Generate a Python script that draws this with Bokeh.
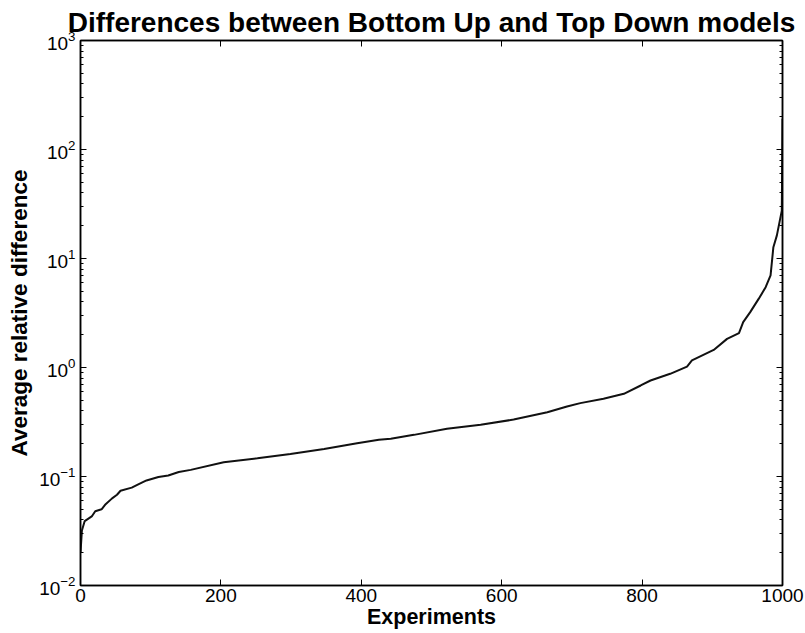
from bokeh.plotting import figure
from bokeh.models import FixedTicker, LogAxis, LinearAxis, LogTickFormatter
from bokeh.embed import file_html
from bokeh.resources import INLINE

# Sorted average relative differences, sampled along the experiment index
experiments = [0, 2, 6, 16, 21, 30, 35, 45, 52, 57, 73, 83, 94, 111, 125, 140,
               157, 204, 252, 299, 347, 394, 425, 442, 475, 522, 570, 617, 665,
               693, 712, 745, 774, 798, 812, 840, 864, 871, 902, 921, 938, 944,
               954, 966, 976, 983, 987, 992, 999, 1000]
avg_rel_diff = [0.020, 0.032, 0.039, 0.043, 0.048, 0.050, 0.055, 0.063, 0.068,
                0.074, 0.079, 0.085, 0.092, 0.099, 0.102, 0.110, 0.115, 0.135,
                0.147, 0.161, 0.179, 0.202, 0.217, 0.222, 0.241, 0.274, 0.298,
                0.333, 0.389, 0.439, 0.471, 0.516, 0.574, 0.684, 0.760, 0.875,
                1.02, 1.16, 1.45, 1.83, 2.07, 2.61, 3.22, 4.26, 5.45, 6.99,
                12.7, 16.3, 27.5, 191.0]

x_ticks = [0, 200, 400, 600, 800, 1000]
y_decades = [1e-2, 1e-1, 1e0, 1e1, 1e2, 1e3]
y_minor = [k * d for d in y_decades[:-1] for k in range(2, 10)]

FONT = "Liberation Sans"

p = figure(width=805, height=633, y_axis_type="log",
           x_range=(0, 1000), y_range=(1e-2, 1e3),
           output_backend="svg", toolbar_location=None,
           min_border_left=80, min_border_right=23,
           min_border_top=40, min_border_bottom=48)

p.title.text = "Differences between Bottom Up and Top Down models"
p.title.align = "center"
p.title.text_font = FONT
p.title.text_font_size = "28px"
p.title.text_font_style = "bold"
p.title.text_color = "black"
p.title.standoff = 6

p.grid.visible = False
p.outline_line_color = "black"
p.outline_line_width = 1.5
p.outline_line_alpha = 1.0

x_ticker = FixedTicker(ticks=x_ticks)
y_ticker = FixedTicker(ticks=y_decades, minor_ticks=y_minor)


def style_axis(ax, show_labels, label_size="21px"):
    ax.axis_line_color = "black"
    ax.axis_line_width = 1.5
    ax.major_tick_in = 6
    ax.major_tick_out = 0
    ax.minor_tick_in = 3
    ax.minor_tick_out = 0
    ax.major_tick_line_color = "black"
    ax.minor_tick_line_color = "black"
    ax.major_label_text_font = FONT
    ax.major_label_text_font_size = "19px" if show_labels else "0px"
    ax.major_label_text_color = "black" if show_labels else None
    ax.axis_label_text_font = FONT
    ax.axis_label_text_font_size = label_size
    ax.axis_label_text_font_style = "bold"
    ax.axis_label_text_color = "black"


xa = p.xaxis[0]
xa.ticker = x_ticker
xa.axis_label = "Experiments"
xa.major_label_standoff = 3
xa.axis_label_standoff = 0
style_axis(xa, True, "21.5px")

ya = p.yaxis[0]
ya.ticker = y_ticker
ya.formatter = LogTickFormatter()
ya.axis_label = "Average relative difference"
ya.major_label_standoff = 5
ya.axis_label_standoff = 4
style_axis(ya, True, "22.5px")

right = LogAxis(ticker=y_ticker)
style_axis(right, False)
p.add_layout(right, "right")

top = LinearAxis(ticker=x_ticker)
style_axis(top, False)
p.add_layout(top, "above")

p.line(experiments, avg_rel_diff, line_color="#111111", line_width=2)

open("out.html", "w").write(file_html(p, INLINE))
